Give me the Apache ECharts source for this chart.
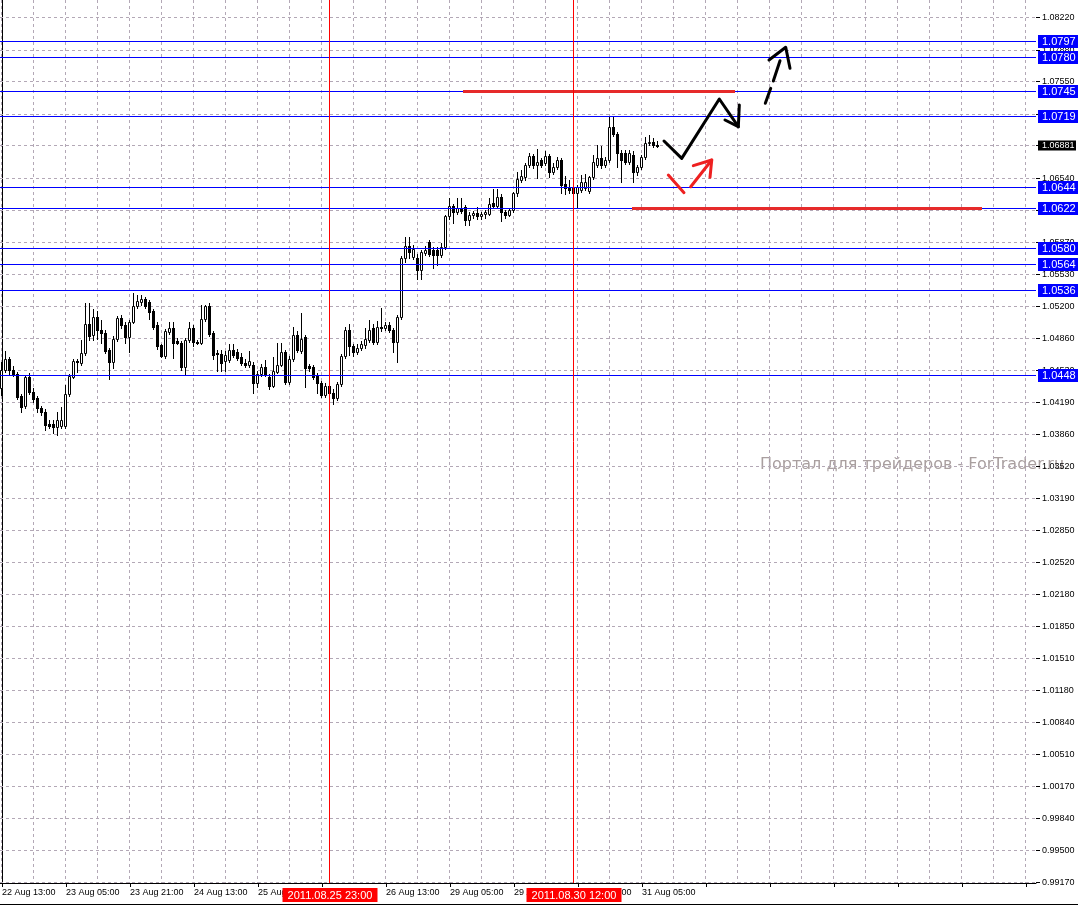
<!DOCTYPE html>
<html>
<head>
<meta charset="utf-8">
<title>H1 chart</title>
<script src="https://cdn.jsdelivr.net/npm/echarts@6.0.0/dist/echarts.min.js"></script>
<style>
html,body{margin:0;padding:0;background:#ffffff;}
#chart{width:1078px;height:907px;}
</style>
</head>
<body>
<div id="chart"></div>
<script>
// ---------------- data ----------------
const opens = [1.0434,1.0453,1.0465,1.0453,1.0449,1.0426,1.0416,1.0446,1.0430,1.0424,
1.0414,1.0409,1.0397,1.0397,1.0394,1.0395,1.0395,1.0428,1.0446,1.0463,
1.0461,1.0471,1.0501,1.0490,1.0509,1.0495,1.0492,1.0474,1.0462,1.0486,
1.0508,1.0500,1.0488,1.0504,1.0520,1.0524,1.0528,1.0524,1.0515,1.0500,
1.0479,1.0468,1.0493,1.0497,1.0484,1.0482,1.0456,1.0485,1.0497,1.0483,
1.0482,1.0507,1.0520,1.0492,1.0471,1.0470,1.0463,1.0464,1.0474,1.0472,
1.0467,1.0461,1.0458,1.0459,1.0440,1.0449,1.0456,1.0446,1.0437,1.0451,
1.0459,1.0472,1.0441,1.0465,1.0490,1.0473,1.0488,1.0457,1.0456,1.0447,
1.0440,1.0427,1.0437,1.0429,1.0424,1.0439,1.0468,1.0495,1.0478,1.0472,
1.0476,1.0479,1.0485,1.0497,1.0483,1.0498,1.0497,1.0500,1.0495,1.0483,
1.0509,1.0570,1.0583,1.0572,1.0571,1.0558,1.0576,1.0587,1.0579,1.0579,
1.0574,1.0582,1.0614,1.0625,1.0619,1.0623,1.0624,1.0610,1.0615,1.0618,
1.0614,1.0617,1.0617,1.0628,1.0625,1.0634,1.0619,1.0616,1.0621,1.0638,
1.0652,1.0655,1.0668,1.0677,1.0668,1.0673,1.0670,1.0677,1.0661,1.0666,
1.0673,1.0648,1.0645,1.0645,1.0639,1.0642,1.0644,1.0641,1.0655,1.0668,
1.0675,1.0668,1.0673,1.0708,1.0700,1.0680,1.0680,1.0671,1.0678,1.0660,
1.0666,1.0676,1.0691,1.0692,1.0689];
const highs = [1.0462,1.0473,1.0467,1.0457,1.0451,1.0428,1.0448,1.0450,1.0434,1.0426,
1.0416,1.0412,1.0401,1.0401,1.0409,1.0415,1.0438,1.0449,1.0465,1.0465,
1.0485,1.0523,1.0523,1.0517,1.0515,1.0506,1.0495,1.0476,1.0489,1.0510,
1.0511,1.0503,1.0506,1.0534,1.0532,1.0532,1.0530,1.0527,1.0517,1.0503,
1.0481,1.0496,1.0503,1.0504,1.0487,1.0484,1.0487,1.0503,1.0500,1.0485,
1.0521,1.0521,1.0523,1.0494,1.0474,1.0474,1.0473,1.0480,1.0480,1.0475,
1.0471,1.0465,1.0473,1.0462,1.0452,1.0460,1.0464,1.0449,1.0467,1.0482,
1.0482,1.0474,1.0468,1.0498,1.0494,1.0513,1.0490,1.0460,1.0458,1.0450,
1.0442,1.0440,1.0440,1.0433,1.0441,1.0470,1.0498,1.0501,1.0481,1.0481,
1.0484,1.0497,1.0506,1.0501,1.0505,1.0518,1.0504,1.0503,1.0497,1.0511,
1.0573,1.0592,1.0592,1.0584,1.0575,1.0579,1.0583,1.0589,1.0582,1.0582,
1.0586,1.0616,1.0633,1.0627,1.0633,1.0633,1.0626,1.0619,1.0620,1.0624,
1.0619,1.0621,1.0633,1.0643,1.0643,1.0637,1.0621,1.0623,1.0640,1.0661,
1.0663,1.0670,1.0680,1.0679,1.0685,1.0675,1.0682,1.0679,1.0670,1.0676,
1.0675,1.0656,1.0652,1.0647,1.0647,1.0657,1.0658,1.0656,1.0678,1.0689,
1.0688,1.0676,1.0719,1.0719,1.0702,1.0684,1.0684,1.0683,1.0682,1.0668,
1.0678,1.0697,1.0699,1.0696,1.0693];
const lows = [1.0427,1.0451,1.0448,1.0447,1.0423,1.0409,1.0414,1.0428,1.0420,1.0409,
1.0406,1.0390,1.0393,1.0387,1.0385,1.0393,1.0393,1.0426,1.0445,1.0451,
1.0459,1.0469,1.0485,1.0485,1.0486,1.0482,1.0471,1.0444,1.0455,1.0484,
1.0497,1.0482,1.0472,1.0502,1.0518,1.0521,1.0518,1.0507,1.0496,1.0475,
1.0467,1.0466,1.0491,1.0466,1.0480,1.0453,1.0448,1.0483,1.0478,1.0480,
1.0480,1.0505,1.0489,1.0465,1.0452,1.0452,1.0452,1.0462,1.0467,1.0464,
1.0458,1.0456,1.0456,1.0429,1.0435,1.0447,1.0447,1.0433,1.0435,1.0450,
1.0457,1.0439,1.0439,1.0463,1.0472,1.0471,1.0436,1.0452,1.0444,1.0429,
1.0425,1.0425,1.0426,1.0418,1.0422,1.0437,1.0466,1.0469,1.0468,1.0470,
1.0474,1.0476,1.0483,1.0481,1.0481,1.0494,1.0495,1.0493,1.0472,1.0462,
1.0507,1.0566,1.0571,1.0569,1.0548,1.0548,1.0574,1.0573,1.0560,1.0563,
1.0572,1.0580,1.0611,1.0607,1.0617,1.0618,1.0605,1.0605,1.0612,1.0611,
1.0611,1.0612,1.0615,1.0623,1.0623,1.0609,1.0612,1.0614,1.0619,1.0635,
1.0650,1.0652,1.0666,1.0665,1.0654,1.0666,1.0668,1.0655,1.0658,1.0664,
1.0639,1.0637,1.0639,1.0631,1.0623,1.0640,1.0642,1.0639,1.0653,1.0666,
1.0665,1.0666,1.0671,1.0698,1.0666,1.0650,1.0669,1.0669,1.0650,1.0657,
1.0664,1.0674,1.0689,1.0687,1.0687];
const closes = [1.0453,1.0465,1.0453,1.0448,1.0425,1.0415,1.0446,1.0430,1.0423,1.0413,
1.0409,1.0396,1.0395,1.0394,1.0401,1.0401,1.0428,1.0447,1.0463,1.0462,
1.0471,1.0501,1.0489,1.0509,1.0495,1.0492,1.0473,1.0462,1.0486,1.0508,
1.0500,1.0488,1.0504,1.0520,1.0525,1.0528,1.0520,1.0514,1.0498,1.0478,
1.0468,1.0494,1.0497,1.0482,1.0482,1.0456,1.0485,1.0497,1.0483,1.0482,
1.0507,1.0520,1.0491,1.0469,1.0470,1.0461,1.0469,1.0474,1.0469,1.0466,
1.0461,1.0459,1.0463,1.0440,1.0449,1.0456,1.0449,1.0437,1.0452,1.0459,
1.0472,1.0441,1.0465,1.0490,1.0474,1.0486,1.0455,1.0455,1.0446,1.0440,
1.0427,1.0437,1.0429,1.0424,1.0439,1.0468,1.0495,1.0478,1.0472,1.0476,
1.0480,1.0486,1.0495,1.0483,1.0498,1.0497,1.0500,1.0495,1.0483,1.0509,
1.0570,1.0583,1.0577,1.0580,1.0558,1.0577,1.0579,1.0575,1.0574,1.0574,
1.0582,1.0614,1.0625,1.0619,1.0623,1.0620,1.0610,1.0616,1.0618,1.0614,
1.0617,1.0619,1.0627,1.0625,1.0634,1.0619,1.0616,1.0621,1.0638,1.0653,
1.0656,1.0668,1.0677,1.0668,1.0671,1.0668,1.0677,1.0661,1.0666,1.0673,
1.0647,1.0644,1.0642,1.0639,1.0645,1.0650,1.0650,1.0655,1.0671,1.0675,
1.0668,1.0673,1.0708,1.0700,1.0680,1.0673,1.0671,1.0680,1.0660,1.0666,
1.0676,1.0691,1.0692,1.0689,1.06881];

// price scale tick labels (right side)
const yTickLabels = ['1.08220','1.07880','1.07550','1.07210','1.06880','1.06540','1.06200','1.05870',
'1.05530','1.05200','1.04860','1.04530','1.04190','1.03860','1.03520','1.03190','1.02850','1.02520',
'1.02180','1.01850','1.01510','1.01180','1.00840','1.00510','1.00170','0.99840','0.99500','0.99170'];

// horizontal level objects
const levelPrices = [1.0797, 1.0780, 1.0745, 1.0719, 1.0644, 1.0622, 1.0580, 1.0564, 1.0536, 1.0448];
const levelLabels = ['1.0797','1.0780','1.0745','1.0719','1.0644','1.0622','1.0580','1.0564','1.0536','1.0448'];

const lastPrice = 1.06881;
const lastPriceLabel = '1.06881';

// vertical line objects (bar index) and their time labels
const vLineBars = [82, 143];
const vLineLabels = ['2011.08.25 23:00', '2011.08.30 12:00'];

// red trend segments: [fromBar, toBar, price]
const redSegments = [[115.25, 183.25, 1.0745], [157.5, 245, 1.0622]];

// hand drawn arrows: points as [bar, price]
const blackArrowPath = [[165.5,1.06929],[169.93,1.06748],[179.33,1.07369],[184.08,1.07079]];
const blackArrowHead = [[180.75,1.07149],[184.08,1.07079],[184.33,1.07306]];
const dashArrowSeg1 = [[190.83,1.07324],[192.18,1.07481]];
const dashArrowSeg2 = [[192.83,1.07557],[194.5,1.07770]];
const dashArrowHead = [[191.75,1.07777],[195.93,1.07910],[197.0,1.07690]];
const redArrowSeg1 = [[166.58,1.06573],[170.5,1.06388]];
const redArrowSeg2 = [[172.18,1.06451],[177.43,1.06730]];
const redArrowHead = [[172.83,1.06671],[177.43,1.06730],[177.0,1.06549]];

// ---------------- layout constants ----------------
const SLOTS = 259;
const Y_MIN = 0.99164, Y_MAX = 1.08405;
const GRID_COLOR = '#b3a8b6';
const FONT9 = '9px "Liberation Sans"';
const FONT11 = '11px "Liberation Sans"';

// category labels (hourly bars, weekend skipped)
const months = ['Jan','Feb','Mar','Apr','May','Jun','Jul','Aug','Sep','Oct','Nov','Dec'];
const categories = [];
(function(){
  let t = Date.UTC(2011, 7, 22, 13);
  for (let i = 0; i < SLOTS; i++) {
    if (i < opens.length) {
      const d = new Date(t);
      categories.push(d.getUTCDate() + ' ' + months[d.getUTCMonth()] + ' ' + String(d.getUTCHours()).padStart(2,'0') + ':00');
      t += 3600000;
      while ([0,6].indexOf(new Date(t).getUTCDay()) >= 0) t += 3600000;
    } else categories.push('');
  }
})();
const vGridBars = [];
for (let i = 0; i < SLOTS; i += 8) vGridBars.push(i);

const candleData = opens.map((o, i) => [i, o, highs[i], lows[i], closes[i]]);

// ---------------- renderers ----------------
function snapX(api, bar) { return Math.round(api.coord([bar, Y_MAX])[0]) - 0.5; }
function snapY(api, price) { return Math.floor(api.coord([0, price])[1]) + 0.5; }

function renderCandle(params, api) {
  const i = api.value(0), o = api.value(1), h = api.value(2), l = api.value(3), c = api.value(4);
  const xc = snapX(api, i);
  const yO = api.coord([i, o])[1], yC = api.coord([i, c])[1];
  const hi = Math.round(api.coord([i, h])[1]), lo = Math.round(api.coord([i, l])[1]);
  const top = Math.round(Math.min(yO, yC)), bot = Math.round(Math.max(yO, yC));
  const ch = [{type:'line', shape:{x1:xc, y1:hi, x2:xc, y2:lo + 1}, style:{stroke:'#000', lineWidth:1}}];
  if (c >= o) {
    ch.push({type:'rect', shape:{x:xc - 1, y:top + 0.5, width:2, height:Math.max(bot - top, 0)},
      style:{fill:'#fff', stroke:'#000', lineWidth:1}});
  } else {
    ch.push({type:'rect', shape:{x:xc - 1.5, y:top, width:3, height:Math.max(bot - top + 1, 1)},
      style:{fill:'#000'}});
  }
  return {type:'group', children:ch};
}

function renderYTick(params, api) {
  const cs = params.coordSys;
  const y = snapY(api, api.value(1));
  const right = cs.x + cs.width;
  return {type:'group', children:[
    {type:'line', shape:{x1:cs.x, y1:y, x2:right, y2:y}, style:{stroke:GRID_COLOR, lineWidth:1, lineDash:[3,3]}},
    {type:'line', shape:{x1:right, y1:y, x2:right + 4, y2:y}, style:{stroke:'#000', lineWidth:1}},
    {type:'text', style:{text:yTickLabels[params.dataIndex], x:right + 6, y:y, fill:'#000', font:FONT9, align:'left', verticalAlign:'middle'}}
  ]};
}

function renderVGrid(params, api) {
  const cs = params.coordSys;
  const x = snapX(api, api.value(0));
  return {type:'line', shape:{x1:x, y1:cs.y, x2:x, y2:cs.y + cs.height},
    style:{stroke:GRID_COLOR, lineWidth:1, lineDash:[3,3]}};
}

function renderLevel(params, api) {
  const k = params.dataIndex;
  const cs = params.coordSys;
  const y = snapY(api, levelPrices[k]);
  const right = cs.x + cs.width;
  return {type:'group', children:[
    {type:'line', shape:{x1:cs.x, y1:y, x2:right, y2:y}, style:{stroke:'#0000ff', lineWidth:1}},
    {type:'rect', shape:{x:right + 2, y:y - 6.5, width:42, height:13}, style:{fill:'#0000ff'}},
    {type:'text', style:{text:levelLabels[k], x:right + 6, y:y + 0.5, fill:'#fff', font:FONT11, align:'left', verticalAlign:'middle'}}
  ]};
}

function renderLastPrice(params, api) {
  const cs = params.coordSys;
  const y = snapY(api, api.value(1));
  const right = cs.x + cs.width;
  return {type:'group', children:[
    {type:'rect', shape:{x:right + 2, y:y - 5, width:38, height:10}, style:{fill:'#000'}},
    {type:'text', style:{text:lastPriceLabel, x:right + 6, y:y, fill:'#fff', font:FONT9, align:'left', verticalAlign:'middle'}}
  ]};
}

function renderVLine(params, api) {
  const k = params.dataIndex;
  const cs = params.coordSys;
  const x = snapX(api, api.value(0));
  const bottom = cs.y + cs.height;
  return {type:'group', children:[
    {type:'line', shape:{x1:x, y1:cs.y, x2:x, y2:bottom}, style:{stroke:'#ff0000', lineWidth:1}},
    {type:'rect', shape:{x:x - 47, y:bottom + 5, width:95, height:14}, style:{fill:'#ff0000'}},
    {type:'text', style:{text:vLineLabels[k], x:x + 0.5, y:bottom + 12.5, fill:'#fff', font:FONT11, align:'center', verticalAlign:'middle'}}
  ]};
}

function renderRedSeg(params, api) {
  const s = redSegments[params.dataIndex];
  const a = api.coord([s[0], s[2]]), b = api.coord([s[1], s[2]]);
  const y = snapY(api, s[2]);
  return {type:'line', shape:{x1:a[0], y1:y, x2:b[0], y2:y}, style:{stroke:'#e62a2a', lineWidth:3}};
}

function makeStrokeRenderer(strokes, color) {
  return function(params, api) {
    const pts = strokes[params.dataIndex].map(p => api.coord(p));
    return {type:'polyline', shape:{points:pts},
      style:{stroke:color, lineWidth:3, fill:null, lineCap:'round', lineJoin:'round'}};
  };
}
const blackStrokes = [blackArrowPath, blackArrowHead, dashArrowSeg1, dashArrowSeg2, dashArrowHead];
const redStrokes = [redArrowSeg1, redArrowSeg2, redArrowHead];

// ---------------- chart ----------------
const chart = echarts.init(document.getElementById('chart'), null, {renderer:'canvas'});
const option = {
  animation: false,
  backgroundColor: '#ffffff',
  grid: {left:0, right:42, top:0, bottom:24, containLabel:false, outerBoundsMode:'none'},
  xAxis: [
    {type:'category', data:categories, boundaryGap:true,
      axisLine:{show:true, lineStyle:{color:'#000', width:1}},
      axisTick:{show:true, alignWithLabel:true, length:4, interval:(i) => i % 16 === 0, lineStyle:{color:'#000'}},
      axisLabel:{show:true, interval:(i) => i % 16 === 0, align:'left', margin:5,
        fontFamily:'Liberation Sans', fontSize:9, color:'#000'},
      splitLine:{show:false}},
    {type:'value', min:-0.5, max:SLOTS - 0.5, show:false, splitLine:{show:false}}
  ],
  yAxis: {type:'value', min:Y_MIN, max:Y_MAX, position:'right', scale:true,
    axisLine:{show:true, lineStyle:{color:'#000', width:1}},
    axisTick:{show:false}, axisLabel:{show:false}, splitLine:{show:false}},
  graphic: [
    {type:'text', left:760, top:457, z:1, silent:true,
      style:{text:'Портал для трейдеров - ForTrader.ru', fill:'#a99f9f', font:'16px "DejaVu Sans"'}},
    {type:'rect', shape:{x:0, y:904, width:1078, height:1}, style:{fill:'#000'}, silent:true}
  ],
  series: [
    {type:'custom', name:'vgrid', xAxisIndex:1, yAxisIndex:0, z:1, silent:true, clip:false,
      renderItem:renderVGrid, data:vGridBars.map(b => [b, Y_MAX])},
    {type:'custom', name:'ygrid', xAxisIndex:1, yAxisIndex:0, z:1, silent:true, clip:false,
      renderItem:renderYTick, data:yTickLabels.map(s => [0, parseFloat(s)])},
    {type:'custom', name:'candles', xAxisIndex:1, yAxisIndex:0, z:3, silent:true, clip:false,
      renderItem:renderCandle, encode:{x:0, y:[1,2,3,4]}, data:candleData},
    {type:'custom', name:'levels', xAxisIndex:1, yAxisIndex:0, z:4, silent:true, clip:false,
      renderItem:renderLevel, data:levelPrices.map(p => [0, p])},
    {type:'custom', name:'last', xAxisIndex:1, yAxisIndex:0, z:5, silent:true, clip:false,
      renderItem:renderLastPrice, data:[[0, lastPrice]]},
    {type:'custom', name:'red', xAxisIndex:1, yAxisIndex:0, z:5, silent:true, clip:false,
      renderItem:renderRedSeg, data:redSegments.map(s => [s[0], s[2]])},
    {type:'custom', name:'vlines', xAxisIndex:1, yAxisIndex:0, z:6, silent:true, clip:false,
      renderItem:renderVLine, data:vLineBars.map(b => [b, Y_MAX])},
    {type:'custom', name:'blackArrows', xAxisIndex:1, yAxisIndex:0, z:7, silent:true, clip:false,
      renderItem:makeStrokeRenderer(blackStrokes, '#000'), data:blackStrokes.map(s => s[0])},
    {type:'custom', name:'redArrows', xAxisIndex:1, yAxisIndex:0, z:7, silent:true, clip:false,
      renderItem:makeStrokeRenderer(redStrokes, '#ee2020'), data:redStrokes.map(s => s[0])}
  ]
};
chart.setOption(option);
</script>
</body>
</html>
